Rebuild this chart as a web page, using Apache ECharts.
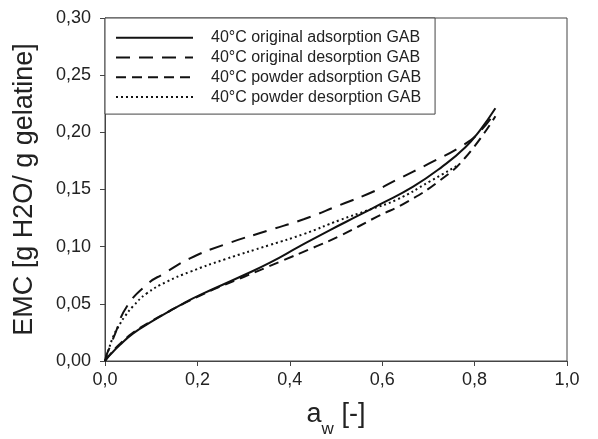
<!DOCTYPE html>
<html>
<head>
<meta charset="utf-8">
<script src="https://cdn.jsdelivr.net/npm/echarts@6/dist/echarts.min.js"></script>
<style>
html,body{margin:0;padding:0;background:#fff;}
#chart{width:598px;height:439px;}
</style>
</head>
<body>
<div id="chart"></div>
<script>
// Series names
var seriesNames = [
  '40°C original adsorption GAB',
  '40°C original desorption GAB',
  '40°C powder adsorption GAB',
  '40°C powder desorption GAB'
];

// 40°C original adsorption GAB (solid)
var origAdsAw  = [0, 0.011, 0.032, 0.061, 0.097, 0.134, 0.170, 0.206, 0.30, 0.357, 0.42, 0.487, 0.55, 0.595, 0.667, 0.73, 0.78, 0.812, 0.845];
var origAdsEmc = [0, 0.0053, 0.014, 0.0242, 0.0335, 0.0423, 0.0505, 0.0578, 0.075, 0.0860, 0.1000, 0.1145, 0.1275, 0.1370, 0.1525, 0.170, 0.187, 0.202, 0.221];

// 40°C original desorption GAB (long dash)
var origDesAw  = [0, 0.004, 0.011, 0.022, 0.047, 0.094, 0.126, 0.184, 0.26, 0.357, 0.43, 0.509, 0.58, 0.631, 0.703, 0.776, 0.81, 0.845];
var origDesEmc = [0, 0.006, 0.0125, 0.024, 0.0475, 0.068, 0.0761, 0.0898, 0.102, 0.1146, 0.124, 0.1365, 0.148, 0.1584, 0.173, 0.189, 0.200, 0.218];

// 40°C powder adsorption GAB (medium dash)
var powAdsAw  = [0, 0.011, 0.032, 0.061, 0.097, 0.134, 0.170, 0.206, 0.249, 0.30, 0.379, 0.45, 0.509, 0.588, 0.653, 0.725, 0.78, 0.845];
var powAdsEmc = [0, 0.0058, 0.0148, 0.0248, 0.034, 0.0425, 0.0502, 0.0572, 0.065, 0.0735, 0.0869, 0.099, 0.1095, 0.126, 0.139, 0.158, 0.178, 0.214];

// 40°C powder desorption GAB (dotted)
var powDesAw  = [0, 0.007, 0.018, 0.029, 0.043, 0.061, 0.09, 0.134, 0.184, 0.26, 0.357, 0.43, 0.509, 0.57, 0.631, 0.703, 0.765];
var powDesEmc = [0, 0.009, 0.0215, 0.030, 0.039, 0.048, 0.0590, 0.0694, 0.0780, 0.089, 0.1015, 0.111, 0.1234, 0.132, 0.141, 0.157, 0.1715];

// Axis ticks
var xTicks = [0, 0.2, 0.4, 0.6, 0.8, 1.0];
var yTicks = [0, 0.05, 0.10, 0.15, 0.20, 0.25, 0.30];

function pairs(xs, ys){ return xs.map(function(x,i){ return [x, ys[i]]; }); }

var lineColor = '#111';
var styles = [
  {type:'solid', width:2},
  {type:[14,9], width:2},
  {type:[10,6], width:2},
  {type:[2,3], width:2}
];
var dataSets = [
  pairs(origAdsAw, origAdsEmc),
  pairs(origDesAw, origDesEmc),
  pairs(powAdsAw, powAdsEmc),
  pairs(powDesAw, powDesEmc)
];

var font = '"Liberation Sans", Arial, sans-serif';
var chart = echarts.init(document.getElementById('chart'), null, {renderer:'canvas'});
chart.setOption({
  animation:false,
  backgroundColor:'#fff',
  grid:{left:105, right:31, top:18, bottom:78, containLabel:false, outerBoundsMode:'none',
        show:true, borderColor:'#444', borderWidth:1, backgroundColor:'transparent'},
  legend:{
    orient:'vertical', left:105, top:18,
    data:seriesNames,
    selectedMode:false,
    itemWidth:77, itemHeight:16, itemGap:3.8,
    padding:[11.7,14,9,10],
    itemStyle:{opacity:0},
    borderColor:'#444', borderWidth:1, backgroundColor:'#fff',
    textStyle:{fontFamily:font, fontSize:16, lineHeight:16, color:'#222', padding:[0,0,0,13]}
  },
  xAxis:{
    type:'value', min:0, max:1, interval:0.2,
    name:'{a|a}{w|w}{a| [-]}', nameLocation:'middle', nameGap:40,
    nameTextStyle:{rich:{a:{fontFamily:font, fontSize:27, color:'#222'}, w:{fontFamily:font, fontSize:17, color:'#222', verticalAlign:'bottom', padding:[0,0,-10,0]}}},
    axisLine:{lineStyle:{color:'#444', width:1}},
    axisTick:{show:true, inside:false, length:5, lineStyle:{color:'#444'}},
    axisLabel:{fontFamily:font, fontSize:18, color:'#222', margin:10,
      formatter:function(v){ return v.toFixed(1).replace('.', ','); }},
    splitLine:{show:false}
  },
  yAxis:{
    type:'value', min:0, max:0.3, interval:0.05,
    name:'EMC [g H2O/ g gelatine]', nameLocation:'middle', nameGap:67,
    nameTextStyle:{fontFamily:font, fontSize:27, color:'#222'},
    axisLine:{show:true, lineStyle:{color:'#444', width:1}},
    axisTick:{show:true, inside:false, length:5, lineStyle:{color:'#444'}},
    axisLabel:{fontFamily:font, fontSize:18, color:'#222', margin:14,
      formatter:function(v){ return v.toFixed(2).replace('.', ','); }},
    splitLine:{show:false}
  },
  series: seriesNames.map(function(n,i){
    return {
      name:n, type:'line', data:dataSets[i],
      showSymbol:false, symbol:'none',
      smooth:0.5,
      lineStyle:{color:lineColor, width:styles[i].width, type:styles[i].type},
      itemStyle:{color:lineColor},
      z: 2
    };
  })
});
</script>
</body>
</html>
